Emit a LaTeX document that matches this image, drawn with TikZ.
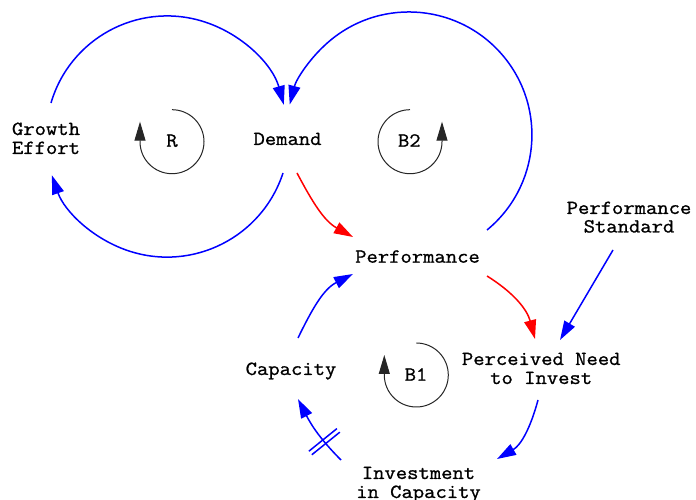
\documentclass[tikz,border=0pt]{standalone}
\usepackage{fontspec}
\setmonofont{Latin Modern Mono}[FakeStretch=1.1, FakeBold=1.0]
\usetikzlibrary{arrows.meta,decorations.markings}
\begin{document}
\begin{tikzpicture}[x=1pt,y=1pt,
  lbl/.style={font=\ttfamily\fontsize{20}{19}\selectfont, inner sep=0pt, anchor=base, align=center},
  plink/.style={blue, line width=1.5pt, -{Triangle[length=19pt,width=12pt]}},
  nlink/.style={red, line width=1.5pt, -{Triangle[length=19pt,width=12pt]}},
  loopline/.style={black!85, line width=1pt, -{Triangle[length=19pt,width=11pt]}},
  delaymark/.style={postaction={decorate, decoration={markings,
     mark=at position #1 with {\draw[blue, line width=1.5pt, -] (-2.3,-18) -- (-2.3,18) (2.3,-18) -- (2.3,18);}}}}
]
\fill[white] (0,0) rectangle (696,500);
\useasboundingbox (0,0) rectangle (696,500);

% variables (base = baseline of the last line)
\node[lbl] (ge)   at (46,346)     {Growth\\Effort};
\node[lbl] (dm)   at (287.5,355)  {Demand};
\node[lbl] (perf) at (417.5,237.3) {Performance};
\node[lbl] (cap)  at (291,125)    {Capacity};
\node[lbl, font=\ttfamily\fontsize{20}{18.5}\selectfont] (ps) at (629,267.5) {Performance\\Standard};
\node[lbl] (pni)  at (541.2,116)  {Perceived Need\\to Invest};
\node[lbl] (inv)  at (418.5,2)    {Investment\\in Capacity};

% loop labels
\node[lbl] (R)  at (172,353.3)  {R};
\node[lbl] (B2) at (409.3,353.3) {B2};
\node[lbl] (B1) at (416,119.3)  {B1};
\coordinate (Rc)  at (172,358.3);
\coordinate (B2c) at (410,358.3);
\coordinate (B1c) at (416.3,125);

% loop markers
\draw[loopline] ([shift={(0,32)}]Rc) arc[start angle=90, end angle=-180, radius=32] -- ++(0,20);
\draw[loopline] ([shift={(0,32)}]B2c) arc[start angle=90, end angle=360, radius=32] -- ++(0,20);
\draw[loopline] ([shift={(0,32)}]B1c) arc[start angle=90, end angle=-180, radius=32] -- ++(0,20);

% connectors
\draw[plink] ([shift={(5,51)}]ge.base) arc[start angle=163.7, end angle=15.4, radius=121];
\draw[plink] ([shift={(-4.5,-28)}]dm.base) arc[start angle=-18.1, end angle=-160.8, radius=122];
\draw[nlink] ([shift={(9.5,-28)}]dm.base) to[out=-62, in=151] ([shift={(-64.5,25.7)}]perf.base);
\draw[plink] ([shift={(69.5,32.7)}]perf.base) arc[start angle=-50.6, end angle=165.7, radius=123];
\draw[nlink] ([shift={(69.5,-13.3)}]perf.base) to[out=-32, in=105] ([shift={(-6.2,45)}]pni.base);
\draw[plink] ([shift={(-16,-17.5)}]ps.base) -- ([shift={(18.8,44)}]pni.base);
\draw[plink] ([shift={(-3.2,-16)}]pni.base) to[out=-105, in=30] ([shift={(78.5,39)}]inv.base);
\draw[plink, delaymark=0.33] ([shift={(-77.5,38)}]inv.base) to[out=135, in=-63] ([shift={(7,-24)}]cap.base);
\draw[plink] ([shift={(7,37)}]cap.base) to[out=64, in=-153] ([shift={(-64.5,-11.3)}]perf.base);
\end{tikzpicture}
\end{document}
